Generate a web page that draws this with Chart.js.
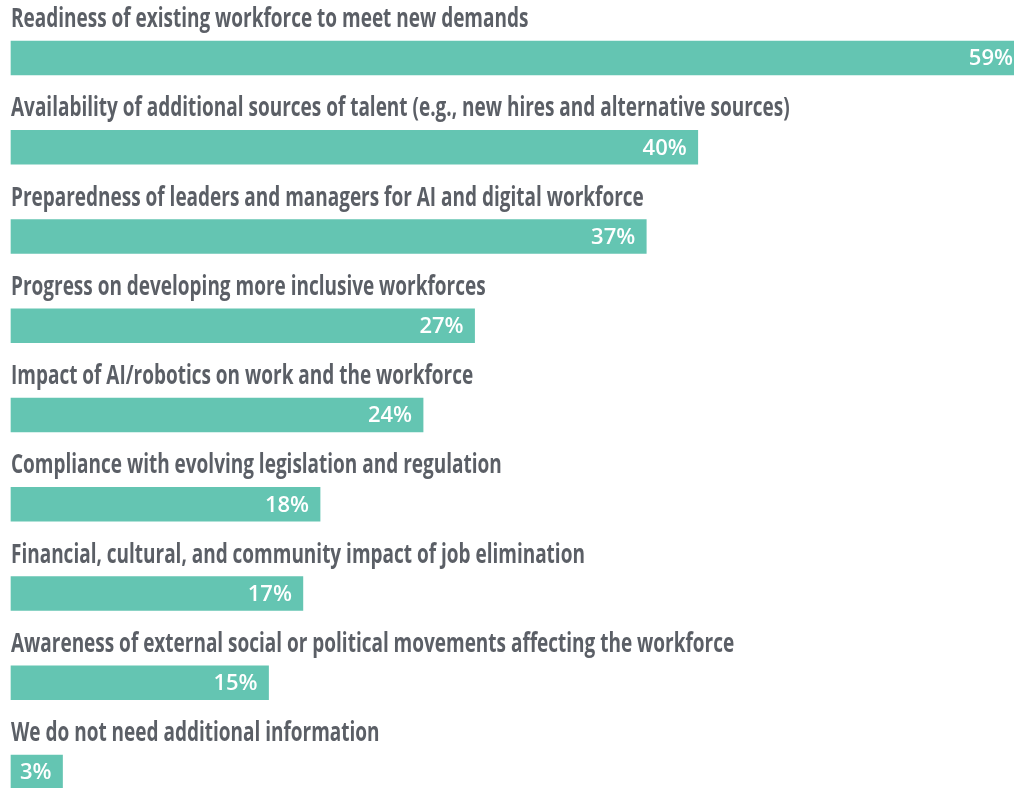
<!DOCTYPE html>
<html>
<head>
<meta charset="utf-8">
<script src="https://cdn.jsdelivr.net/npm/chart.js@4.4.1/dist/chart.umd.min.js"></script>
<style>
html, body { margin: 0; padding: 0; background: #ffffff; overflow: hidden; width: 1014px; height: 788px; }
#wrap { position: relative; width: 1024px; height: 788px; }
</style>
</head>
<body>
<div id="wrap"><canvas id="c" width="1024" height="788"></canvas></div>
<script>
const categories = [
  "Readiness of existing workforce to meet new demands",
  "Availability of additional sources of talent (e.g., new hires and alternative sources)",
  "Preparedness of leaders and managers for AI and digital workforce",
  "Progress on developing more inclusive workforces",
  "Impact of AI/robotics on work and the workforce",
  "Compliance with evolving legislation and regulation",
  "Financial, cultural, and community impact of job elimination",
  "Awareness of external social or political movements affecting the workforce",
  "We do not need additional information"
];
const values = [59, 40, 37, 27, 24, 18, 17, 15, 3];
const valueLabels = ["59%", "40%", "37%", "27%", "24%", "18%", "17%", "15%", "3%"];

const BAR_COLOR = "#64c5b2";
const TEXT_COLOR = "#5b5f66";

const labelPlugin = {
  id: "labelPlugin",
  afterDatasetsDraw(chart) {
    const ctx = chart.ctx;
    const meta = chart.getDatasetMeta(0);
    const xs = chart.scales.x;
    const ys = chart.scales.y;
    ctx.save();
    meta.data.forEach((bar, i) => {
      const yc = ys.getPixelForValue(i);
      // category label above bar (condensed bold)
      ctx.save();
      ctx.font = '700 26px "Open Sans"';
      ctx.fillStyle = TEXT_COLOR;
      ctx.textBaseline = "alphabetic";
      ctx.textAlign = "left";
      const sx = 0.73;
      ctx.translate(xs.getPixelForValue(0), yc - 31);
      ctx.scale(sx, 1);
      ctx.fillText(categories[i], 0, 0);
      ctx.restore();
      // value label inside bar end
      ctx.font = '600 22px "Open Sans"';
      ctx.fillStyle = "#ffffff";
      ctx.textAlign = "right";
      ctx.textBaseline = "middle";
      ctx.fillText(valueLabels[i], xs.getPixelForValue(values[i]) - 11, yc + 1);
    });
    ctx.restore();
  }
};

new Chart(document.getElementById("c"), {
  type: "bar",
  data: {
    labels: categories,
    datasets: [{
      data: values,
      backgroundColor: BAR_COLOR,
      borderWidth: 0,
      barThickness: 34,
      clip: false
    }]
  },
  options: {
    indexAxis: "y",
    responsive: false,
    animation: false,
    devicePixelRatio: 1,
    layout: { padding: { left: 11, right: 0, top: 58, bottom: 16 } },
    plugins: { legend: { display: false }, tooltip: { enabled: false } },
    scales: {
      x: { display: false, min: 0, max: 59 },
      y: { display: false, offset: false, grid: { display: false } }
    }
  },
  plugins: [labelPlugin]
});
</script>
</body>
</html>
